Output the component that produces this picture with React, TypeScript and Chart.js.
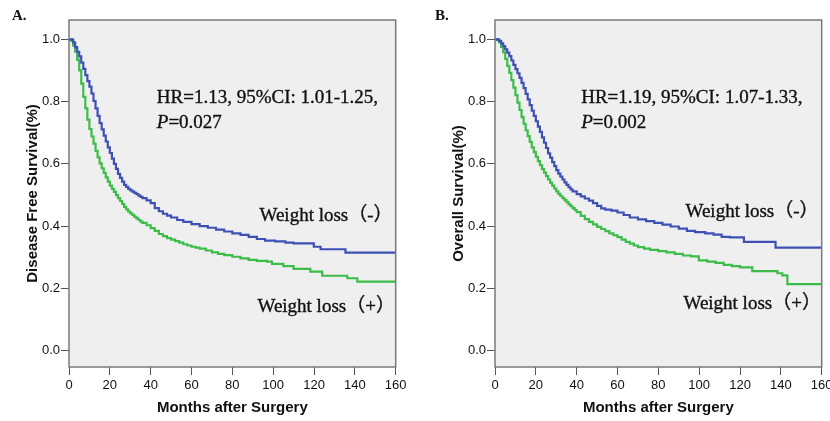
import React, { useEffect, useRef } from "react";
import { Chart, registerables } from "chart.js";

Chart.register(...registerables);

// ---------- axis ticks ----------
const xTickValues = [0, 20, 40, 60, 80, 100, 120, 140, 160];
const yTickValues = [0, 0.2, 0.4, 0.6, 0.8, 1.0];

// ---------- Panel A: Disease free survival ----------
const dfsNoLossMonths = [0, 1, 2, 3, 4, 5, 6, 7, 8, 9, 10, 11, 12, 13, 14, 15, 16, 17, 18, 19, 20, 21, 22, 23, 24, 25, 26, 27, 28, 29, 30, 31, 32, 33, 34, 35, 36, 38, 40, 42, 44, 46, 48, 50, 53, 56, 60, 64, 68, 72, 76, 80, 84, 88, 92, 96, 101, 106, 110, 119.9, 123.2, 135.4, 160];
const dfsNoLossSurvival = [1, 1, 0.99, 0.975, 0.96, 0.945, 0.925, 0.905, 0.885, 0.866, 0.848, 0.826, 0.802, 0.778, 0.754, 0.731, 0.711, 0.691, 0.672, 0.653, 0.635, 0.617, 0.6, 0.584, 0.568, 0.555, 0.543, 0.533, 0.526, 0.52, 0.515, 0.511, 0.507, 0.503, 0.498, 0.494, 0.49, 0.483, 0.474, 0.458, 0.448, 0.44, 0.434, 0.428, 0.42, 0.414, 0.407, 0.4, 0.395, 0.389, 0.383, 0.377, 0.372, 0.366, 0.359, 0.354, 0.351, 0.347, 0.345, 0.334, 0.326, 0.315, 0.315];

const dfsLossMonths = [0, 1, 2, 3, 4, 5, 6, 7, 8, 9, 10, 11, 12, 13, 14, 15, 16, 17, 18, 19, 20, 21, 22, 23, 24, 25, 26, 27, 28, 29, 30, 31, 32, 33, 34, 35, 36, 38, 40, 42, 44, 46, 48, 50, 52, 54, 56, 58, 60, 62, 64, 67, 70, 73, 76, 80, 84, 88, 92, 97, 99.4, 105, 110, 118.2, 124, 136.3, 141.2, 160];
const dfsLossSurvival = [1, 0.995, 0.98, 0.96, 0.935, 0.9, 0.858, 0.815, 0.778, 0.742, 0.712, 0.688, 0.665, 0.642, 0.621, 0.602, 0.586, 0.571, 0.557, 0.543, 0.53, 0.52, 0.51, 0.5, 0.49, 0.481, 0.472, 0.462, 0.454, 0.447, 0.441, 0.436, 0.43, 0.425, 0.42, 0.415, 0.411, 0.403, 0.394, 0.385, 0.375, 0.368, 0.362, 0.357, 0.352, 0.347, 0.342, 0.338, 0.334, 0.331, 0.328, 0.322, 0.316, 0.311, 0.307, 0.302, 0.297, 0.292, 0.289, 0.286, 0.279, 0.272, 0.263, 0.254, 0.241, 0.233, 0.222, 0.222];

// ---------- Panel B: Overall survival ----------
const osNoLossMonths = [0, 1.5, 2, 3, 4, 5, 6, 7, 8, 9, 10, 11, 12, 13, 14, 15, 16, 17, 18, 19, 20, 21, 22, 23, 24, 25, 26, 27, 28, 29, 30, 31, 32, 33, 34, 35, 36, 37, 38, 40, 42, 44, 46, 48, 50, 52, 54, 57, 60, 63, 66, 70, 74, 78, 82, 86, 90, 94, 98, 103, 107, 111, 115, 121.9, 137.4, 160];
const osNoLossSurvival = [1, 1, 0.995, 0.987, 0.978, 0.968, 0.957, 0.946, 0.932, 0.918, 0.904, 0.891, 0.876, 0.86, 0.843, 0.825, 0.807, 0.789, 0.771, 0.754, 0.737, 0.72, 0.703, 0.685, 0.668, 0.651, 0.634, 0.62, 0.606, 0.593, 0.58, 0.569, 0.559, 0.55, 0.541, 0.533, 0.525, 0.518, 0.512, 0.503, 0.496, 0.489, 0.482, 0.474, 0.465, 0.457, 0.453, 0.45, 0.444, 0.436, 0.428, 0.422, 0.416, 0.411, 0.405, 0.399, 0.392, 0.385, 0.381, 0.377, 0.373, 0.366, 0.364, 0.35, 0.331, 0.331];

const osLossMonths = [0, 1, 2, 3, 4, 5, 6, 7, 8, 9, 10, 11, 12, 13, 14, 15, 16, 17, 18, 19, 20, 21, 22, 23, 24, 25, 26, 27, 28, 29, 30, 31, 32, 33, 34, 35, 36, 37, 38, 39, 40, 42, 44, 46, 48, 50, 52, 54, 56, 58, 60, 62, 64, 66, 68, 70, 73, 76, 80, 84, 88, 92, 96, 99.8, 104, 108, 112, 116, 120, 126, 138.3, 140.7, 143.2, 160];
const osLossSurvival = [1, 0.997, 0.99, 0.976, 0.958, 0.937, 0.915, 0.892, 0.869, 0.845, 0.821, 0.797, 0.773, 0.75, 0.729, 0.708, 0.689, 0.671, 0.653, 0.638, 0.623, 0.609, 0.596, 0.583, 0.572, 0.561, 0.55, 0.54, 0.53, 0.521, 0.512, 0.504, 0.497, 0.49, 0.484, 0.477, 0.47, 0.464, 0.458, 0.452, 0.445, 0.433, 0.423, 0.414, 0.406, 0.398, 0.391, 0.384, 0.377, 0.371, 0.365, 0.357, 0.35, 0.344, 0.338, 0.333, 0.328, 0.324, 0.32, 0.316, 0.311, 0.306, 0.303, 0.29, 0.286, 0.282, 0.276, 0.272, 0.268, 0.256, 0.249, 0.242, 0.214, 0.214];

// ---------- texts ----------
const panelLetters = ["A.", "B."];
const yAxisTitles = ["Disease Free Survival(%)", "Overall Survival(%)"];
const xAxisTitle = "Months after Surgery";
const hrTexts = ["HR=1.13, 95%CI: 1.01-1.25,", "HR=1.19, 95%CI: 1.07-1.33,"];
const pValues = ["0.027", "0.002"];
const groupLabels = ["Weight loss（-）", "Weight loss（+）"];

const BLUE = "#3f50b4";
const GREEN = "#3cbc48";
const SANS = '"Liberation Sans", Arial, sans-serif';
const SERIF = '"Liberation Serif", "Noto Sans CJK SC", serif';

type Panel = {
  left: number;
  width: number;
  padRight: number;
  yAxisWidth: number;
  yTitlePad: number;
  letter: string;
  letterX: number;
  yTitle: string;
  hr: string;
  p: string;
  negMonths: number[];
  negSurv: number[];
  posMonths: number[];
  posSurv: number[];
  hrAt: [number, number];
  pAt: [number, number];
  negLabelAt: [number, number];
  posLabelAt: [number, number];
};

const panels: Panel[] = [
  {
    left: 0, width: 415, padRight: 19.3, yAxisWidth: 69, yTitlePad: 24,
    letter: panelLetters[0], letterX: 12, yTitle: yAxisTitles[0],
    hr: hrTexts[0], p: pValues[0],
    negMonths: dfsNoLossMonths, negSurv: dfsNoLossSurvival,
    posMonths: dfsLossMonths, posSurv: dfsLossSurvival,
    hrAt: [43.0, 0.8125], pAt: [43.0, 0.731],
    negLabelAt: [93.3, 0.433], posLabelAt: [92.3, 0.141],
  },
  {
    left: 415, width: 415, padRight: 8.3, yAxisWidth: 80, yTitlePad: 35,
    letter: panelLetters[1], letterX: 20, yTitle: yAxisTitles[1],
    hr: hrTexts[1], p: pValues[1],
    negMonths: osNoLossMonths, negSurv: osNoLossSurvival,
    posMonths: osLossMonths, posSurv: osLossSurvival,
    hrAt: [42.2, 0.8125], pAt: [42.2, 0.731],
    negLabelAt: [93.3, 0.446], posLabelAt: [92.3, 0.151],
  },
];

function zip(xs: number[], ys: number[]) {
  return xs.map((x, i) => ({ x, y: ys[i] }));
}

function heavyText(ctx: CanvasRenderingContext2D, s: string, x: number, y: number) {
  ctx.fillText(s, x, y);
  ctx.strokeText(s, x, y);
}

function makeDecor(p: Panel) {
  return {
    id: "kmDecor",
    beforeDraw(chart: any) {
      const { ctx, chartArea: a } = chart;
      ctx.save();
      ctx.fillStyle = "#efefef";
      ctx.fillRect(a.left, a.top, a.right - a.left, a.bottom - a.top);
      ctx.restore();
    },
    afterDraw(chart: any) {
      const { ctx, chartArea: a, scales } = chart;
      const sx = scales.x;
      const sy = scales.y;
      ctx.save();
      ctx.strokeStyle = "#7a7a7a";
      ctx.lineWidth = 1.5;
      ctx.strokeRect(a.left, a.top, a.right - a.left, a.bottom - a.top);

      ctx.fillStyle = "#111";
      ctx.strokeStyle = "#111";
      ctx.lineWidth = 0.35;
      ctx.textAlign = "left";
      ctx.textBaseline = "alphabetic";
      ctx.font = `bold 15px ${SERIF}`;
      ctx.fillText(p.letter, p.letterX, 20);

      ctx.textBaseline = "middle";
      ctx.font = `19px ${SERIF}`;
      heavyText(ctx, p.hr, sx.getPixelForValue(p.hrAt[0]), sy.getPixelForValue(p.hrAt[1]));

      const px = sx.getPixelForValue(p.pAt[0]);
      const py = sy.getPixelForValue(p.pAt[1]);
      ctx.font = `italic 19px ${SERIF}`;
      heavyText(ctx, "P", px, py);
      const w = ctx.measureText("P").width;
      ctx.font = `19px ${SERIF}`;
      heavyText(ctx, "=" + p.p, px + w, py);

      heavyText(ctx, groupLabels[0], sx.getPixelForValue(p.negLabelAt[0]), sy.getPixelForValue(p.negLabelAt[1]));
      heavyText(ctx, groupLabels[1], sx.getPixelForValue(p.posLabelAt[0]), sy.getPixelForValue(p.posLabelAt[1]));
      ctx.restore();
    },
  };
}

function buildConfig(p: Panel): any {
  const tickFont = { family: SANS, size: 13 };
  const titleFont = { family: SANS, size: 15, weight: "bold" as const };
  return {
    type: "line",
    data: {
      datasets: [
        {
          label: groupLabels[0],
          data: zip(p.negMonths, p.negSurv),
          borderColor: BLUE,
          borderWidth: 2.2,
          pointRadius: 0,
          stepped: "before",
          fill: false,
        },
        {
          label: groupLabels[1],
          data: zip(p.posMonths, p.posSurv),
          borderColor: GREEN,
          borderWidth: 2.2,
          pointRadius: 0,
          stepped: "before",
          fill: false,
        },
      ],
    },
    options: {
      responsive: false,
      maintainAspectRatio: false,
      animation: false,
      events: [],
      layout: { padding: { left: 0, top: 20, right: p.padRight, bottom: 0 } },
      plugins: { legend: { display: false }, tooltip: { enabled: false }, title: { display: false } },
      scales: {
        x: {
          type: "linear",
          min: 0,
          max: 160,
          afterBuildTicks: (s: any) => {
            s.ticks = xTickValues.map((v) => ({ value: v }));
          },
          afterFit: (s: any) => {
            s.height = 54;
            s.paddingLeft = 0;
            s.paddingRight = 0;
          },
          grid: { drawOnChartArea: false, drawTicks: true, tickLength: 8, color: "#555", lineWidth: 1 },
          border: { display: false },
          ticks: { font: tickFont, color: "#111", padding: 3, maxRotation: 0, autoSkip: false },
          title: { display: true, text: xAxisTitle, font: titleFont, color: "#111", padding: { top: 0, bottom: 4 } },
        },
        y: {
          type: "linear",
          min: -0.052,
          max: 1.062,
          afterBuildTicks: (s: any) => {
            s.ticks = yTickValues.map((v) => ({ value: v }));
          },
          afterFit: (s: any) => {
            s.width = p.yAxisWidth;
            s.paddingTop = 0;
            s.paddingBottom = 0;
          },
          grid: { drawOnChartArea: false, drawTicks: true, tickLength: 8, color: "#555", lineWidth: 1 },
          border: { display: false },
          ticks: {
            font: tickFont,
            color: "#111",
            padding: 1,
            autoSkip: false,
            callback: (v: any) => Number(v).toFixed(1),
          },
          title: { display: true, text: p.yTitle, font: titleFont, color: "#111", padding: { top: p.yTitlePad, bottom: 0 } },
        },
      },
    },
    plugins: [makeDecor(p)],
  };
}

function KMChart({ panel }: { panel: Panel }) {
  const ref = useRef<HTMLCanvasElement>(null);
  useEffect(() => {
    const chart = new Chart(ref.current as HTMLCanvasElement, buildConfig(panel));
    return () => chart.destroy();
  }, [panel]);
  return (
    <canvas
      ref={ref}
      width={panel.width}
      height={421}
      style={{ position: "absolute", left: panel.left, top: 0, width: panel.width, height: 421 }}
    />
  );
}

export default function App() {
  return (
    <div
      style={{
        position: "fixed",
        left: 0,
        top: 0,
        width: 830,
        height: 421,
        overflow: "hidden",
        background: "#ffffff",
      }}
    >
      {panels.map((p, i) => (
        <KMChart key={i} panel={p} />
      ))}
    </div>
  );
}
